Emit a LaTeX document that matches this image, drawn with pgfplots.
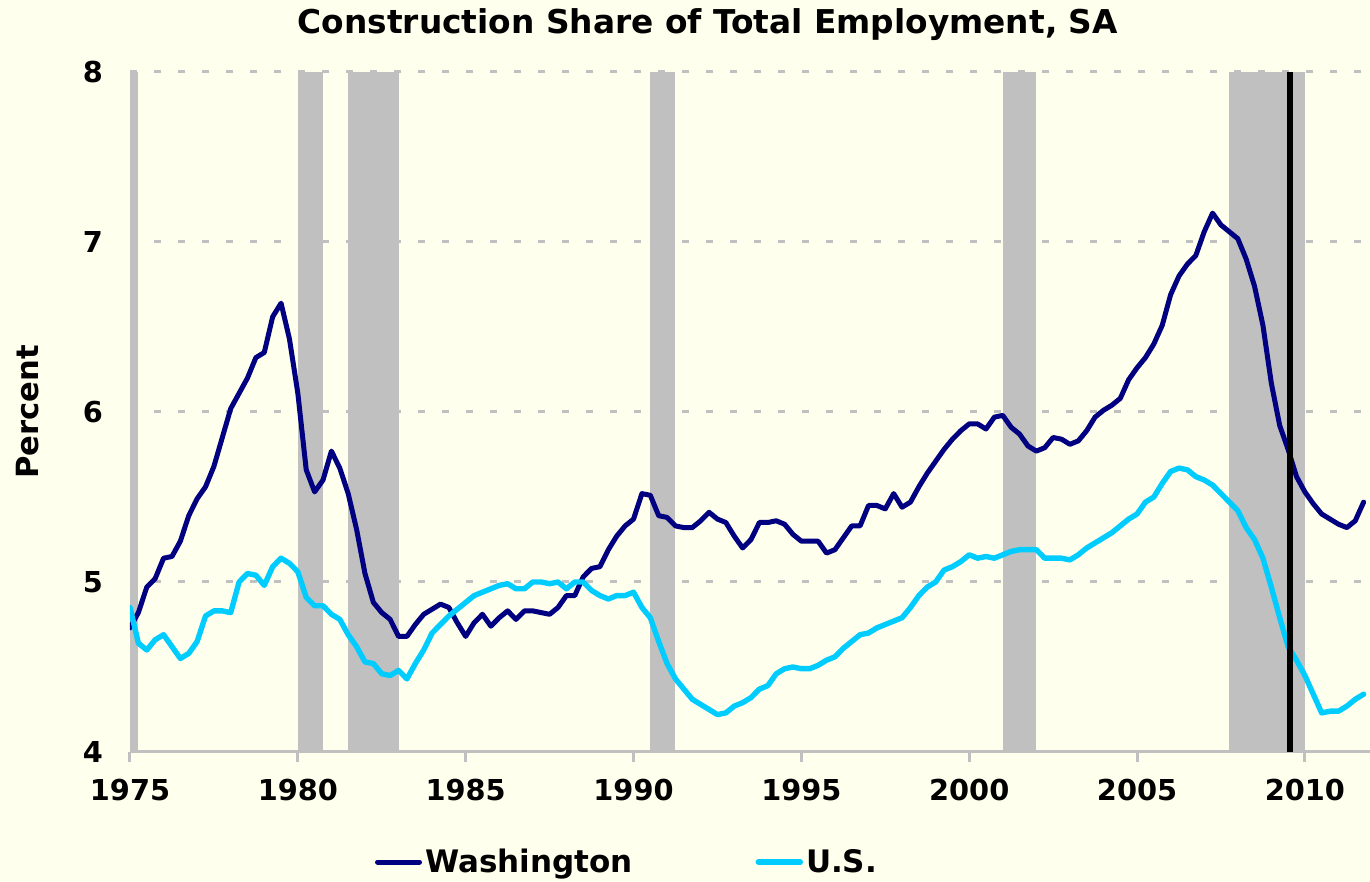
\documentclass[border=0pt]{standalone}
\usepackage{fontspec}
\setmainfont{DejaVu Sans}
\usepackage{pgfplots}
\pgfplotsset{compat=1.18}
\definecolor{bgc}{HTML}{FFFFEE}
\definecolor{recg}{HTML}{C0C0C0}
\definecolor{wa}{HTML}{000080}
\definecolor{us}{HTML}{00CCFF}
\pagecolor{bgc}
\begin{document}
\begin{tikzpicture}
\begin{axis}[name=ax, scale only axis, width=620pt, height=340pt,
  xmin=1975, xmax=2011.94, ymin=4, ymax=8,
  axis x line*=bottom, axis y line*=left,
  x axis line style={recg, line width=1.5pt},
  y axis line style={draw=none},
  xtick={1975,1980,...,2010}, ytick={4,5,6,7,8},
  xtick style={recg, line width=1.5pt}, ytick style={draw=none},
  tick align=outside, major tick length=5pt,
  scaled x ticks=false,
  /pgf/number format/assume math mode=true,
  /pgf/number format/1000 sep={},
  xticklabel style={font=\bfseries\fontsize{14.4}{16}\selectfont, yshift=-5pt},
  yticklabel style={font=\bfseries\fontsize{14.4}{16}\selectfont, xshift=-5pt},
  ymajorgrids, grid style={recg, line width=1.5pt, dash pattern=on 3.5pt off 8.5pt},
  title={Construction Share of Total Employment, SA},
  title style={font=\bfseries\fontsize{16.4}{18}\selectfont, at={(0.466,1)}, anchor=base, yshift=13pt},
  ylabel={Percent},
  ylabel style={font=\bfseries\fontsize{15.3}{17}\selectfont, at={(axis description cs:-0.0823,0.5)}, anchor=center},
  legend columns=2,
  legend image code/.code={\draw[#1] (0pt,0pt) -- (21pt,0pt);},
  legend style={draw=none, fill=none, inner sep=0pt, outer sep=0pt,
    at={(axis description cs:0.1976,-0.1618)}, anchor=west,
    font=\bfseries\fontsize{15.5}{17}\selectfont,
    nodes={inner sep=1.5pt},
    /tikz/every even column/.append style={column sep=60pt}},
]
% recession bands
\addplot[fill=recg, draw=none, forget plot] coordinates {(1975,4) (1975.25,4) (1975.25,8) (1975,8)} -- cycle;
\addplot[fill=recg, draw=none, forget plot] coordinates {(1980,4) (1980.75,4) (1980.75,8) (1980,8)} -- cycle;
\addplot[fill=recg, draw=none, forget plot] coordinates {(1981.5,4) (1983,4) (1983,8) (1981.5,8)} -- cycle;
\addplot[fill=recg, draw=none, forget plot] coordinates {(1990.5,4) (1991.25,4) (1991.25,8) (1990.5,8)} -- cycle;
\addplot[fill=recg, draw=none, forget plot] coordinates {(2001,4) (2002,4) (2002,8) (2001,8)} -- cycle;
\addplot[fill=recg, draw=none, forget plot] coordinates {(2007.75,4) (2010,4) (2010,8) (2007.75,8)} -- cycle;
% Washington
\addplot[wa, line width=2.5pt, line join=round, line cap=round] coordinates {
(1975.00,4.73) (1975.25,4.82) (1975.50,4.97) (1975.75,5.02) (1976.00,5.14) (1976.25,5.15) (1976.50,5.24) (1976.75,5.39)
(1977.00,5.49) (1977.25,5.56) (1977.50,5.68) (1977.75,5.85) (1978.00,6.02) (1978.25,6.11) (1978.50,6.20) (1978.75,6.32)
(1979.00,6.35) (1979.25,6.56) (1979.50,6.64) (1979.75,6.43) (1980.00,6.11) (1980.25,5.66) (1980.50,5.53) (1980.75,5.60)
(1981.00,5.77) (1981.25,5.67) (1981.50,5.52) (1981.75,5.31) (1982.00,5.05) (1982.25,4.88) (1982.50,4.82) (1982.75,4.78)
(1983.00,4.68) (1983.25,4.68) (1983.50,4.75) (1983.75,4.81) (1984.00,4.84) (1984.25,4.87) (1984.50,4.85) (1984.75,4.76)
(1985.00,4.68) (1985.25,4.76) (1985.50,4.81) (1985.75,4.74) (1986.00,4.79) (1986.25,4.83) (1986.50,4.78) (1986.75,4.83)
(1987.00,4.83) (1987.25,4.82) (1987.50,4.81) (1987.75,4.85) (1988.00,4.92) (1988.25,4.92) (1988.50,5.03) (1988.75,5.08)
(1989.00,5.09) (1989.25,5.19) (1989.50,5.27) (1989.75,5.33) (1990.00,5.37) (1990.25,5.52) (1990.50,5.51) (1990.75,5.39)
(1991.00,5.38) (1991.25,5.33) (1991.50,5.32) (1991.75,5.32) (1992.00,5.36) (1992.25,5.41) (1992.50,5.37) (1992.75,5.35)
(1993.00,5.27) (1993.25,5.20) (1993.50,5.25) (1993.75,5.35) (1994.00,5.35) (1994.25,5.36) (1994.50,5.34) (1994.75,5.28)
(1995.00,5.24) (1995.25,5.24) (1995.50,5.24) (1995.75,5.17) (1996.00,5.19) (1996.25,5.26) (1996.50,5.33) (1996.75,5.33)
(1997.00,5.45) (1997.25,5.45) (1997.50,5.43) (1997.75,5.52) (1998.00,5.44) (1998.25,5.47) (1998.50,5.56) (1998.75,5.64)
(1999.00,5.71) (1999.25,5.78) (1999.50,5.84) (1999.75,5.89) (2000.00,5.93) (2000.25,5.93) (2000.50,5.90) (2000.75,5.97)
(2001.00,5.98) (2001.25,5.91) (2001.50,5.87) (2001.75,5.80) (2002.00,5.77) (2002.25,5.79) (2002.50,5.85) (2002.75,5.84)
(2003.00,5.81) (2003.25,5.83) (2003.50,5.89) (2003.75,5.97) (2004.00,6.01) (2004.25,6.04) (2004.50,6.08) (2004.75,6.19)
(2005.00,6.26) (2005.25,6.32) (2005.50,6.40) (2005.75,6.51) (2006.00,6.69) (2006.25,6.80) (2006.50,6.87) (2006.75,6.92)
(2007.00,7.06) (2007.25,7.17) (2007.50,7.10) (2007.75,7.06) (2008.00,7.02) (2008.25,6.90) (2008.50,6.74) (2008.75,6.51)
(2009.00,6.17) (2009.25,5.92) (2009.50,5.78) (2009.75,5.62) (2010.00,5.53) (2010.25,5.46) (2010.50,5.40) (2010.75,5.37)
(2011.00,5.34) (2011.25,5.32) (2011.50,5.36) (2011.75,5.47)
};
\addlegendentry{Washington}
% U.S.
\addplot[us, line width=2.7pt, line join=round, line cap=round] coordinates {
(1975.00,4.85) (1975.25,4.64) (1975.50,4.60) (1975.75,4.66) (1976.00,4.69) (1976.25,4.62) (1976.50,4.55) (1976.75,4.58)
(1977.00,4.65) (1977.25,4.80) (1977.50,4.83) (1977.75,4.83) (1978.00,4.82) (1978.25,5.00) (1978.50,5.05) (1978.75,5.04)
(1979.00,4.98) (1979.25,5.09) (1979.50,5.14) (1979.75,5.11) (1980.00,5.06) (1980.25,4.91) (1980.50,4.86) (1980.75,4.86)
(1981.00,4.81) (1981.25,4.78) (1981.50,4.69) (1981.75,4.62) (1982.00,4.53) (1982.25,4.52) (1982.50,4.46) (1982.75,4.45)
(1983.00,4.48) (1983.25,4.43) (1983.50,4.52) (1983.75,4.60) (1984.00,4.70) (1984.25,4.75) (1984.50,4.80) (1984.75,4.84)
(1985.00,4.88) (1985.25,4.92) (1985.50,4.94) (1985.75,4.96) (1986.00,4.98) (1986.25,4.99) (1986.50,4.96) (1986.75,4.96)
(1987.00,5.00) (1987.25,5.00) (1987.50,4.99) (1987.75,5.00) (1988.00,4.96) (1988.25,5.00) (1988.50,5.00) (1988.75,4.95)
(1989.00,4.92) (1989.25,4.90) (1989.50,4.92) (1989.75,4.92) (1990.00,4.94) (1990.25,4.85) (1990.50,4.79) (1990.75,4.65)
(1991.00,4.52) (1991.25,4.43) (1991.50,4.37) (1991.75,4.31) (1992.00,4.28) (1992.25,4.25) (1992.50,4.22) (1992.75,4.23)
(1993.00,4.27) (1993.25,4.29) (1993.50,4.32) (1993.75,4.37) (1994.00,4.39) (1994.25,4.46) (1994.50,4.49) (1994.75,4.50)
(1995.00,4.49) (1995.25,4.49) (1995.50,4.51) (1995.75,4.54) (1996.00,4.56) (1996.25,4.61) (1996.50,4.65) (1996.75,4.69)
(1997.00,4.70) (1997.25,4.73) (1997.50,4.75) (1997.75,4.77) (1998.00,4.79) (1998.25,4.85) (1998.50,4.92) (1998.75,4.97)
(1999.00,5.00) (1999.25,5.07) (1999.50,5.09) (1999.75,5.12) (2000.00,5.16) (2000.25,5.14) (2000.50,5.15) (2000.75,5.14)
(2001.00,5.16) (2001.25,5.18) (2001.50,5.19) (2001.75,5.19) (2002.00,5.19) (2002.25,5.14) (2002.50,5.14) (2002.75,5.14)
(2003.00,5.13) (2003.25,5.16) (2003.50,5.20) (2003.75,5.23) (2004.00,5.26) (2004.25,5.29) (2004.50,5.33) (2004.75,5.37)
(2005.00,5.40) (2005.25,5.47) (2005.50,5.50) (2005.75,5.58) (2006.00,5.65) (2006.25,5.67) (2006.50,5.66) (2006.75,5.62)
(2007.00,5.60) (2007.25,5.57) (2007.50,5.52) (2007.75,5.47) (2008.00,5.42) (2008.25,5.32) (2008.50,5.25) (2008.75,5.14)
(2009.00,4.97) (2009.25,4.79) (2009.50,4.62) (2009.75,4.54) (2010.00,4.45) (2010.25,4.34) (2010.50,4.23) (2010.75,4.24)
(2011.00,4.24) (2011.25,4.27) (2011.50,4.31) (2011.75,4.34)
};
\addlegendentry{U.S.}
% vertical marker
\addplot[black, line width=3pt, forget plot] coordinates {(2009.55,4) (2009.55,8)};
\end{axis}
\pgfresetboundingbox
\path[use as bounding box] ([xshift=-65pt,yshift=-65pt]ax.south west) rectangle ([yshift=36pt]ax.north east);
\end{tikzpicture}
\end{document}
